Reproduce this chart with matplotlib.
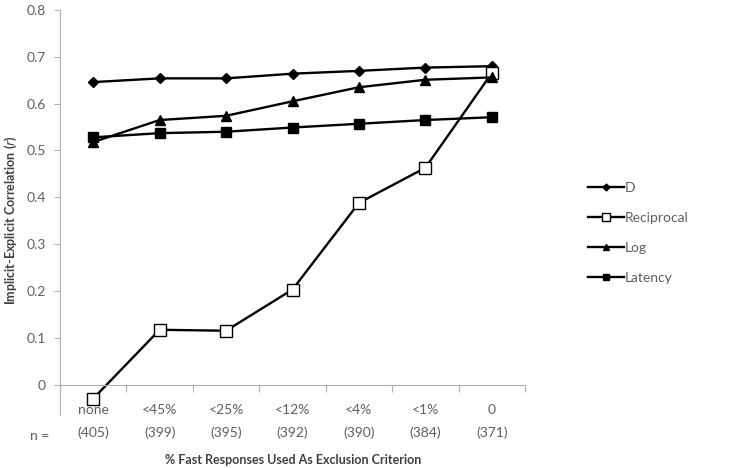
import matplotlib.pyplot as plt

plt.rcParams['font.family'] = ['Lato', 'DejaVu Sans']

categories = ["none", "<45%", "<25%", "<12%", "<4%", "<1%", "0"]
n_values = ["(405)", "(399)", "(395)", "(392)", "(390)", "(384)", "(371)"]

d_vals = [0.646, 0.654, 0.654, 0.664, 0.670, 0.677, 0.680]
reciprocal_vals = [-0.030, 0.117, 0.115, 0.203, 0.388, 0.463, 0.665]
log_vals = [0.518, 0.565, 0.574, 0.605, 0.635, 0.651, 0.656]
latency_vals = [0.528, 0.537, 0.540, 0.549, 0.557, 0.565, 0.571]

grey = "#5f5f5f"
x = range(len(categories))

fig = plt.figure(figsize=(7.34, 4.68), dpi=100)
ax = fig.add_axes([60 / 734, 1 - 415 / 468, 465 / 734, 405 / 468])

ax.plot(x, d_vals, color="black", lw=1.7, marker="D", ms=5, label="D")
ax.plot(x, reciprocal_vals, color="black", lw=1.7, marker="s", ms=8,
        mfc="white", mec="black", mew=1, label="Reciprocal")
ax.plot(x, log_vals, color="black", lw=1.7, marker="^", ms=7, label="Log")
ax.plot(x, latency_vals, color="black", lw=1.7, marker="s", ms=7, label="Latency")

ax.set_xlim(-0.5, 6.5)
ax.set_ylim(-0.065, 0.8)
ax.set_yticks([0, 0.1, 0.2, 0.3, 0.4, 0.5, 0.6, 0.7, 0.8])
ax.set_yticklabels(["0", "0.1", "0.2", "0.3", "0.4", "0.5", "0.6", "0.7", "0.8"])

for s in ["top", "right"]:
    ax.spines[s].set_visible(False)
ax.spines["left"].set_color("#b0b0b0")
ax.spines["bottom"].set_color("#b0b0b0")
ax.spines["bottom"].set_position(("data", 0))

# boundary ticks on the category axis
ax.set_xticks([i - 0.5 for i in range(len(categories) + 1)])
ax.set_xticklabels([])
ax.tick_params(axis="x", which="major", direction="out", length=5, color="#b0b0b0")
# category labels with n below
ax.set_xticks(list(x), minor=True)
ax.set_xticklabels([c + "\n" + n for c, n in zip(categories, n_values)], minor=True,
                   linespacing=2.0)
ax.tick_params(axis="x", which="minor", length=0, pad=14, labelsize=10, labelcolor=grey)
ax.tick_params(axis="y", direction="out", length=4, color="#b0b0b0", labelsize=10,
               labelcolor=grey, pad=6)

fig.text(40 / 734, 1 - 436 / 468, "n =", ha="center", va="center", fontsize=10, color=grey)
fig.text(293 / 734, 1 - 460 / 468, "% Fast Responses Used As Exclusion Criterion",
         ha="center", va="center", fontsize=9, fontweight="bold", color="#404040")
fig.text(11 / 734, 1 - 220 / 468, "Implicit-Explicit Correlation (" + r"$\it{r}$" + ")",
         rotation=90, ha="center", va="center", fontsize=9, fontweight="bold", color="#404040")

ax.legend(loc="center left", bbox_to_anchor=(575 / 734, 1 - 233 / 468),
          bbox_transform=fig.transFigure, frameon=False, handlelength=2.6,
          handletextpad=0.1, labelspacing=1.3, fontsize=10, labelcolor=grey,
          markerscale=0.7)

fig.savefig("out.png", dpi=100)
